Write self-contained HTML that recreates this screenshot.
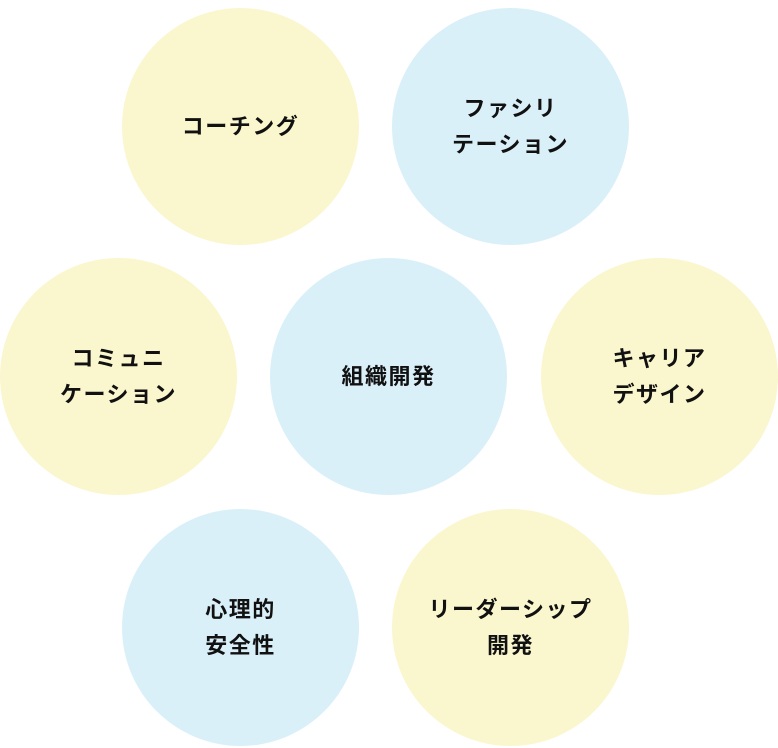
<!DOCTYPE html>
<html><head><meta charset="utf-8"><style>
html,body{margin:0;padding:0;background:#fff;}
body{width:778px;height:748px;position:relative;overflow:hidden;font-family:"Liberation Sans","Noto Sans CJK JP",sans-serif;}
.c{position:absolute;width:237px;height:237px;border-radius:50%;display:flex;align-items:center;justify-content:center;text-align:center;font-weight:bold;font-size:22px;line-height:36px;color:#111;letter-spacing:1.5px;}
.y{background:#faf7cf;}
.b{background:#daf0f9;}
</style></head><body>
<div class="c y" style="left:122px;top:8px;">コーチング</div>
<div class="c b" style="left:392px;top:8px;">ファシリ<br>テーション</div>
<div class="c y" style="left:0px;top:258px;">コミュニ<br>ケーション</div>
<div class="c b" style="left:270px;top:258px;">組織開発</div>
<div class="c y" style="left:541px;top:258px;">キャリア<br>デザイン</div>
<div class="c b" style="left:122px;top:509px;">心理的<br>安全性</div>
<div class="c y" style="left:392px;top:509px;">リーダーシップ<br>開発</div>
</body></html>
